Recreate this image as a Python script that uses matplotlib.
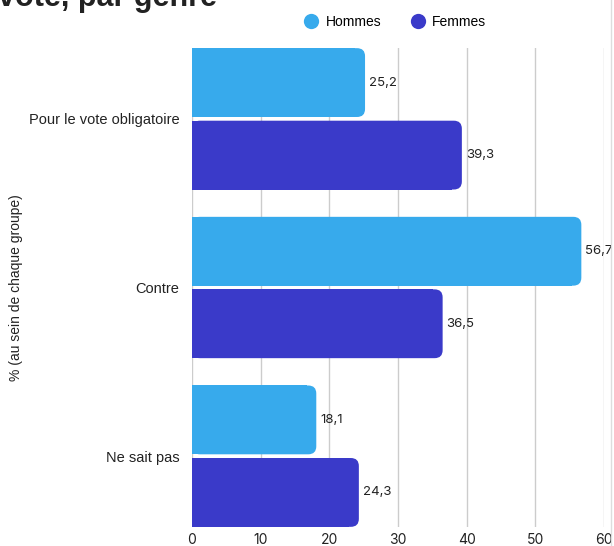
import matplotlib
matplotlib.use("Agg")
import matplotlib.pyplot as plt
from matplotlib.patches import FancyBboxPatch, Rectangle
from matplotlib.lines import Line2D

categories = ["Pour le vote obligatoire", "Contre", "Ne sait pas"]
hommes = [25.2, 56.7, 18.1]
femmes = [39.3, 36.5, 24.3]
series_names = ["Hommes", "Femmes"]
colors = ["#37AAEC", "#3A3AC9"]
xticks = [0, 10, 20, 30, 40, 50, 60]

W, H = 614, 546
fig = plt.figure(figsize=(W / 100, H / 100), dpi=100)
ax = fig.add_axes([192 / W, 1 - 527 / H, (604 - 192) / W, (527 - 48) / H])

ax.set_xlim(0, 60)
ax.set_ylim(2.42, -0.42)

bar_h = 0.408
offset = 0.215
rad_px = 8
x_per_px = 60 / (604 - 192)
y_per_px = 2.84 / (527 - 48)
rx = rad_px * x_per_px
aspect = y_per_px / x_per_px

for vals, sign, col in [(hommes, -1, colors[0]), (femmes, 1, colors[1])]:
    for i, v in enumerate(vals):
        yc = i + sign * offset
        y0 = yc - bar_h / 2
        p = FancyBboxPatch((0, y0), v, bar_h,
                           boxstyle=f"round,pad=0,rounding_size={rx}",
                           mutation_aspect=aspect, fc=col, ec="none", zorder=3)
        ax.add_patch(p)
        ax.add_patch(Rectangle((0, y0), v - rx * 1.2, bar_h, fc=col, ec="none", zorder=3))
        ax.text(v + 4 * x_per_px, yc, f"{v:.1f}".replace(".", ","),
                va="center", ha="left", fontsize=9.5, family="Inter", color="#222222", zorder=4)

ax.set_xticks(xticks)
ax.set_xticklabels([str(t) for t in xticks], fontsize=10, family="Inter", color="#222222")
ax.set_yticks(range(len(categories)))
ax.set_yticklabels(categories, fontsize=10.5, family="Liberation Sans", color="#222222")
ax.tick_params(axis="both", length=0)
ax.tick_params(axis="y", pad=9)
ax.tick_params(axis="x", pad=4)
ax.grid(axis="x", color="#cccccc", linewidth=1, zorder=0)
for s in ax.spines.values():
    s.set_visible(False)

fig.text(16 / W, 1 - 288 / H, "% (au sein de chaque groupe)", rotation=90,
         ha="center", va="center", fontsize=10, family="Liberation Sans", color="#222222")

fig.text(-2 / W, 1 - 6 / H, "vote, par genre", ha="left", va="baseline",
         fontsize=22, fontweight="bold", family="Liberation Sans", color="#222222")

handles = [Line2D([], [], marker="o", linestyle="none", markersize=11,
                  markerfacecolor=c, markeredgecolor="none") for c in colors]
fig.legend(handles, series_names, loc="center", bbox_to_anchor=(392 / W, 1 - 22 / H),
           ncol=2, frameon=False, handletextpad=0.05, columnspacing=1.6,
           prop={"family": "Liberation Sans", "size": 10})

fig.add_artist(Line2D([611 / W, 611 / W], [0, 1], color="#dddddd", linewidth=1))

fig.savefig("out.png", dpi=100)
